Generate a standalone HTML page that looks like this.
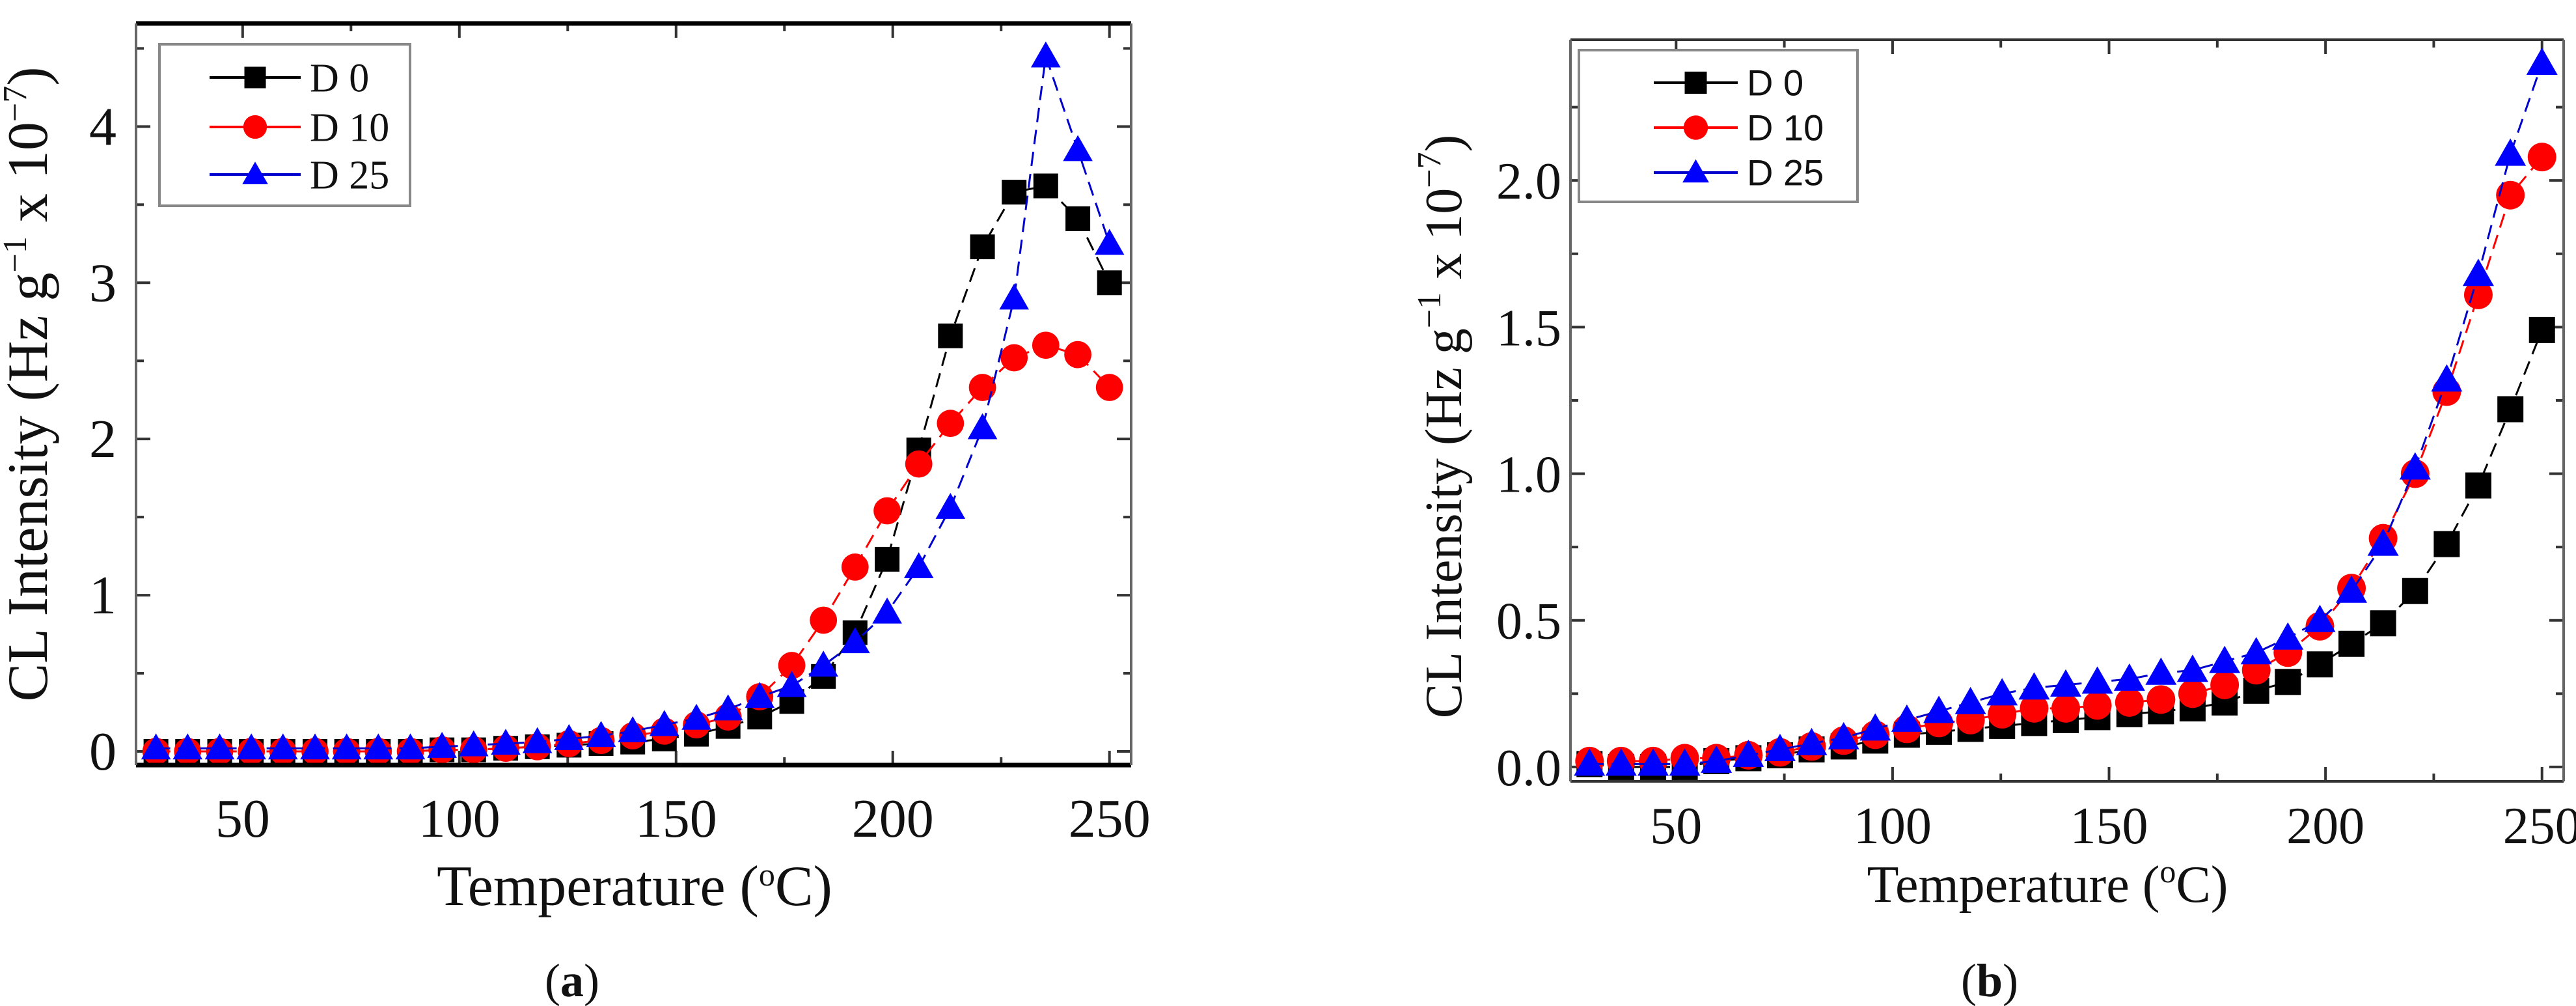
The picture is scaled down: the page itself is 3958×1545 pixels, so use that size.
<!DOCTYPE html>
<html><head><meta charset="utf-8"><style>
html,body{margin:0;padding:0;background:#fff;}
svg{display:block;}
.serif{font-family:"Liberation Serif",serif;}
.sans{font-family:"Liberation Sans",sans-serif;}
</style></head><body>
<svg id="svg" width="3958" height="1545" viewBox="0 0 3958 1545" xmlns="http://www.w3.org/2000/svg"></svg>
<script>
const temps = [30,37.3,44.7,52,59.3,66.7,74,81.3,88.7,96,103.3,110.7,118,125.3,132.7,140,147.3,154.7,162,169.3,176.7,184,191.3,198.7,206,213.3,220.7,228,235.3,242.7,250];
const aD0 = [0,0,0,0,0,0,0,0,0,0.01,0.01,0.02,0.03,0.04,0.05,0.06,0.08,0.11,0.16,0.22,0.32,0.48,0.76,1.23,1.93,2.66,3.23,3.58,3.62,3.41,3.0];
const aD10 = [0,0,0,0,0,0,0,0,0,0.01,0.01,0.02,0.03,0.05,0.07,0.1,0.13,0.17,0.22,0.35,0.55,0.84,1.18,1.54,1.84,2.1,2.33,2.52,2.6,2.54,2.33];
const aD25 = [0.02,0.02,0.02,0.02,0.02,0.02,0.02,0.02,0.02,0.03,0.04,0.05,0.06,0.08,0.1,0.13,0.17,0.21,0.27,0.35,0.42,0.55,0.7,0.89,1.18,1.56,2.07,2.9,4.45,3.85,3.25];
const bD0 = [0.01,0,0,0,0.02,0.03,0.04,0.06,0.07,0.09,0.11,0.12,0.13,0.14,0.15,0.16,0.17,0.18,0.19,0.2,0.22,0.26,0.29,0.35,0.42,0.49,0.6,0.76,0.96,1.22,1.49];
const bD10 = [0.02,0.02,0.02,0.03,0.03,0.04,0.05,0.07,0.09,0.11,0.13,0.15,0.16,0.18,0.2,0.2,0.21,0.22,0.23,0.25,0.28,0.33,0.39,0.48,0.61,0.78,1.0,1.28,1.61,1.95,2.08];
const bD25 = [0.01,0.01,0.01,0.01,0.02,0.04,0.06,0.08,0.1,0.13,0.16,0.19,0.22,0.25,0.27,0.28,0.29,0.3,0.32,0.33,0.36,0.39,0.44,0.5,0.6,0.76,1.02,1.32,1.68,2.09,2.4];
const xTicks = [50,100,150,200,250];
const aYTicks = [0,1,2,3,4];
const bYTicks = [0,0.5,1.0,1.5,2.0];
const bYLabels = ["0.0","0.5","1.0","1.5","2.0"];
const seriesNames = ["D 0","D 10","D 25"];

const NS="http://www.w3.org/2000/svg";
const svg=document.getElementById('svg');
function mk(tag,attrs,parent){const e=document.createElementNS(NS,tag);for(const k in attrs)e.setAttribute(k,attrs[k]);(parent||svg).appendChild(e);return e;}

function marker(g,type,cx,cy,s){
  let e;
  if(type===0){e=mk('rect',{x:cx-s/2,y:cy-s/2,width:s,height:s,fill:'#000'},g);}
  else if(type===1){e=mk('circle',{cx:cx,cy:cy,r:s*0.55,fill:'#ff0000'},g);}
  else {const h=s*1.0,w=s*1.2;e=mk('polygon',{points:`${cx},${cy-h*0.6} ${cx+w/2},${cy+h*0.45} ${cx-w/2},${cy+h*0.45}`,fill:'#0000ff'},g);}
  return e;
}

function chart(o){
  const g=mk('g',{});
  
  
  const X=v=>o.x0+(v-o.xmin)/(o.xmax-o.xmin)*(o.x1-o.x0);
  const Y=v=>o.y1-(v-o.ymin)/(o.ymax-o.ymin)*(o.y1-o.y0);
  const xt=mk('g',{},g);
  
  
  xTicks.forEach(t=>{
    const px=X(t);
    mk('line',{x1:px,y1:o.y1,x2:px,y2:o.y1-22,stroke:'#333','stroke-width':4},xt);
    mk('line',{x1:px,y1:o.y0,x2:px,y2:o.y0+22,stroke:'#333','stroke-width':4},xt);
    const m=X(t-25);
    if(m>o.x0){mk('line',{x1:m,y1:o.y1,x2:m,y2:o.y1-12,stroke:'#333','stroke-width':4},xt);mk('line',{x1:m,y1:o.y0,x2:m,y2:o.y0+12,stroke:'#333','stroke-width':4},xt);}
    const tl=mk('text',{x:px,y:o.y1+o.xlabOff,'text-anchor':'middle','font-size':o.tickFs,class:'serif',fill:'#111'},xt);
    tl.textContent=t;
    
    
  });
  const yt=mk('g',{},g);
  
  
  o.yTicks.forEach((t,i)=>{
    const py=Y(t);
    mk('line',{x1:o.x0,y1:py,x2:o.x0+22,y2:py,stroke:'#333','stroke-width':4},yt);
    mk('line',{x1:o.x1,y1:py,x2:o.x1-22,y2:py,stroke:'#333','stroke-width':4},yt);
    const step=o.yTicks[1]-o.yTicks[0];
    const m=Y(t+step/2);
    if(m>o.y0){mk('line',{x1:o.x0,y1:m,x2:o.x0+12,y2:m,stroke:'#333','stroke-width':4},yt);mk('line',{x1:o.x1,y1:m,x2:o.x1-12,y2:m,stroke:'#333','stroke-width':4},yt);}
    const tl=mk('text',{x:o.x0-o.ylabOff,y:py+28,'text-anchor':'end','font-size':o.tickFs,class:'serif',fill:'#111'},yt);
    tl.textContent=o.yLabels[i];
    
    
  });
  const cols=['#000','#ff0000','#0000cc'];
  o.series.forEach((arr,si)=>{
    const sg=mk('g',{},g);
    
    
    const pts=arr.map((v,i)=>X(temps[i])+','+Y(v)).join(' ');
    mk('polyline',{points:pts,fill:'none',stroke:cols[si],'stroke-width':3,'stroke-dasharray':'22 12'},sg);
    arr.forEach((v,i)=>{
      const m=marker(sg,si,X(temps[i]),Y(v),o.ms);
      
      
    });
  });
  const fr=mk('g',{},g);
  
  
  mk('line',{x1:o.x0,y1:o.y0,x2:o.x1,y2:o.y0,stroke:o.hCol,'stroke-width':o.hW},fr);
  mk('line',{x1:o.x0,y1:o.y1,x2:o.x1,y2:o.y1,stroke:o.hCol,'stroke-width':o.hW},fr);
  mk('line',{x1:o.x0,y1:o.y0,x2:o.x0,y2:o.y1,stroke:'#666','stroke-width':4},fr);
  mk('line',{x1:o.x1,y1:o.y0,x2:o.x1,y2:o.y1,stroke:'#666','stroke-width':4},fr);
  const lg=mk('g',{},g);
  
  
  const L=o.leg;
  mk('rect',{x:L.x,y:L.y,width:L.w,height:L.h,fill:'#fff',stroke:'#888','stroke-width':4},lg);
  L.rows.forEach((ry,si)=>{
    const eg=mk('g',{},lg);
    
    
    mk('line',{x1:L.l0,y1:ry,x2:L.l1,y2:ry,stroke:cols[si],'stroke-width':4},eg);
    marker(eg,si,(L.l0+L.l1)/2,ry,L.ms);
    const t=mk('text',{x:L.tx,y:ry+L.fs*0.35,'font-size':L.fs,class:L.cls,fill:'#111'},eg);
    t.textContent=seriesNames[si];
  });
  const xtit=mk('text',{x:o.xtx,y:o.xty,'text-anchor':'middle','font-size':o.titFs,class:'serif',fill:'#111'},g);
  
  
  xtit.innerHTML='Temperature (<tspan dy="-30" font-size="50">o</tspan><tspan dy="30">C)</tspan>';
  const ytit=mk('text',{x:0,y:0,'text-anchor':'middle','font-size':o.titFs,class:'serif',fill:'#111',transform:`translate(${o.ytx},${o.yty}) rotate(-90)`},g);
  
  
  ytit.innerHTML='CL Intensity (Hz g<tspan dy="-32" font-size="52">−1</tspan><tspan dy="32"> x 10</tspan><tspan dy="-32" font-size="52">−7</tspan><tspan dy="32">)</tspan>';
  const cap=mk('text',{x:o.capx,y:1530,'text-anchor':'middle','font-size':72,class:'serif',fill:'#111'},g);
  
  
  cap.innerHTML='(<tspan font-weight="bold">'+o.cap+'</tspan>)';
}

chart({name:'chart-a',x0:209,x1:1738,y0:36,y1:1175,xmin:25.4,xmax:255,ymin:-0.0875,ymax:4.66,
  yTicks:aYTicks,yLabels:aYTicks.map(String),series:[aD0,aD10,aD25],ms:38,tickFs:84,xlabOff:110,ylabOff:30,
  hCol:'#000',hW:7,titFs:88,xtx:975,xty:1390,ytx:72,yty:590,capx:879,cap:'a',
  leg:{x:245,y:68,w:385,h:248,rows:[119,195,268],l0:322,l1:462,ms:33,tx:476,fs:62,cls:'serif'}});
chart({name:'chart-b',x0:2413,x1:3939,y0:61,y1:1200,xmin:25.6,xmax:255,ymin:-0.049,ymax:2.48,
  yTicks:bYTicks,yLabels:bYLabels,series:[bD0,bD10,bD25],ms:40,tickFs:80,xlabOff:95,ylabOff:14,
  hCol:'#333',hW:4,titFs:80,xtx:3146,xty:1385,ytx:2245,yty:655,capx:3057,cap:'b',
  leg:{x:2426,y:77,w:428,h:233,rows:[127,196,265],l0:2541,l1:2670,ms:34,tx:2684,fs:56,cls:'sans'}});
</script>
</body></html>
